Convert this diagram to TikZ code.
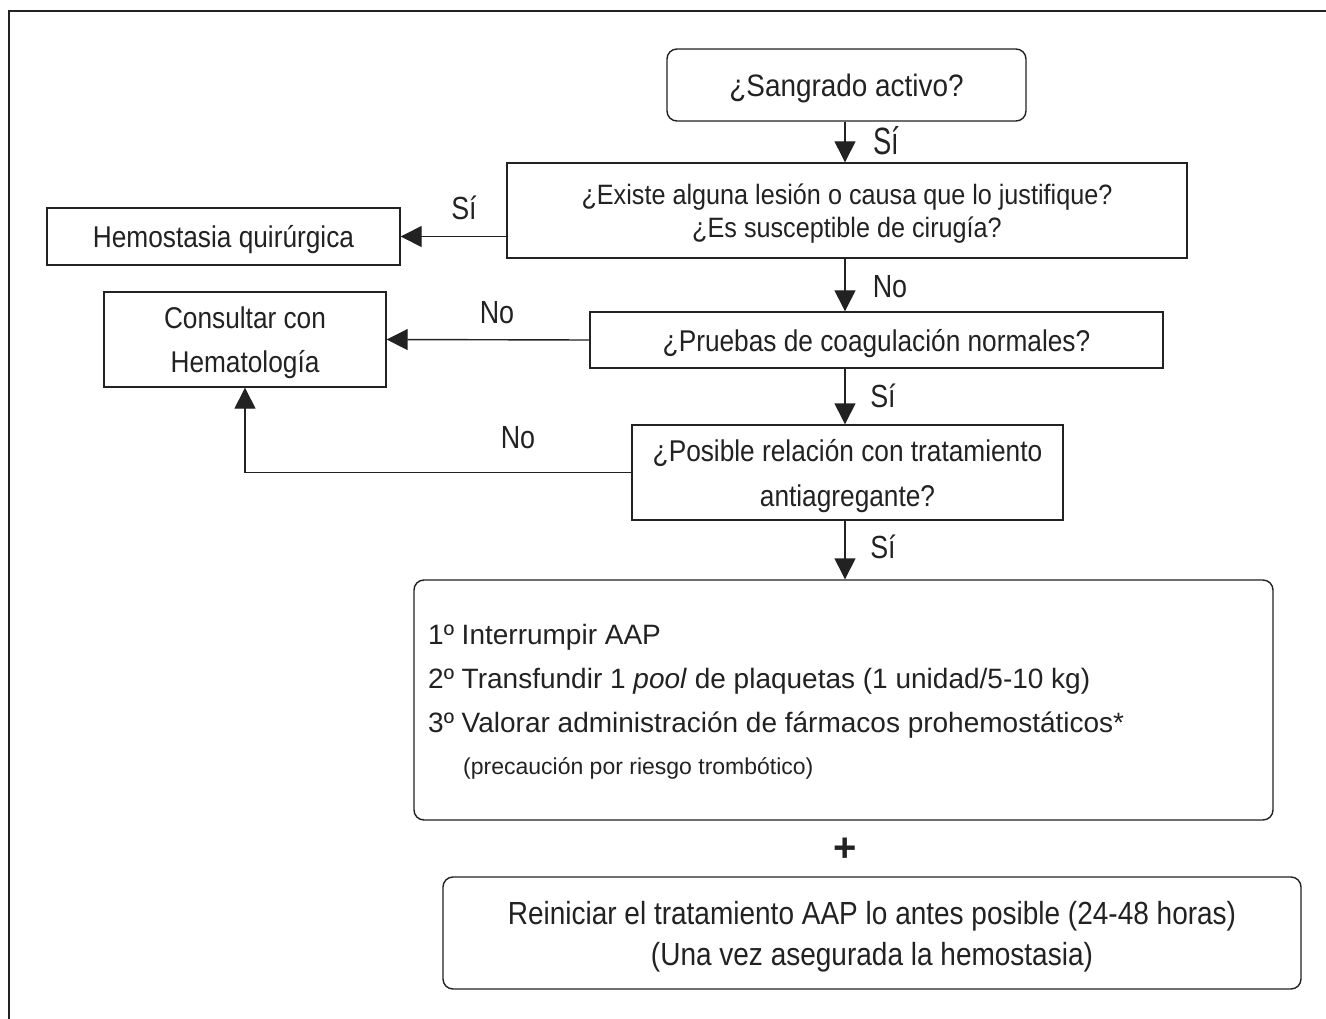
\documentclass[tikz,border=0pt]{standalone}
\usepackage{fontspec}
\setmainfont{Liberation Sans}
\newfontfamily\cond[FakeStretch=0.875]{Liberation Sans}
\newfontfamily\condm[FakeStretch=0.9]{Liberation Sans}
\newfontfamily\condl[FakeStretch=0.84]{Liberation Sans}
\newfontfamily\condx[FakeStretch=0.72]{Liberation Sans}
\usetikzlibrary{arrows.meta}
\definecolor{ink}{HTML}{222222}
\tikzset{
  box/.style={draw=ink, line width=1.4pt, inner sep=0pt, align=center, text=ink, text depth=0pt},
  rbox/.style={box, rounded corners=10pt},
  arr/.style={draw=ink, line width=1.4pt, -{Triangle[length=21pt,width=21pt]}},
  lbl/.style={text=ink, inner sep=0pt, font=\condl\fontsize{32}{36}\selectfont},
  txt/.style={text=ink, inner sep=0pt, font=\fontsize{28}{44}\selectfont},
}
\begin{document}
\begin{tikzpicture}[x=1pt,y=-1pt]
\useasboundingbox[fill=white] (0,0) rectangle (1326,1019);
% frame
\draw[ink, line width=1.4pt] (9,1019) -- (9,11) -- (1326,11);

\node[rbox, minimum width=359pt, minimum height=72pt, font=\condm\fontsize{31}{34}\selectfont] (sang) at (846.5,85) {¿Sangrado activo?};
\node[box, minimum width=680pt, minimum height=95pt, font=\condm\fontsize{28}{33}\selectfont] (exist) at (847,210.5) {¿Existe alguna lesión o causa que lo justifique?\\¿Es susceptible de cirugía?};
\node[box, minimum width=353pt, minimum height=57pt, font=\cond\fontsize{30}{36}\selectfont] (hemo) at (223.5,236.5) {Hemostasia quirúrgica};
\node[box, minimum width=573pt, minimum height=56pt, font=\cond\fontsize{30}{36}\selectfont] (prue) at (876.5,340) {¿Pruebas de coagulación normales?};
\node[box, minimum width=282pt, minimum height=95pt, font=\cond\fontsize{30}{44}\selectfont] (cons) at (245,339.5) {Consultar con\\Hematología};
\node[box, minimum width=431pt, minimum height=95pt, font=\cond\fontsize{30}{45}\selectfont] (posi) at (847.5,472.5) {¿Posible relación con tratamiento\\antiagregante?};
\node[rbox, minimum width=859pt, minimum height=240pt] (big) at (843.5,700) {};
\node[txt, anchor=base west] (t1) at (428,644) {1º Interrumpir AAP};
\node[txt, anchor=base west] (t2) at (428,688) {2º Transfundir 1 \textit{pool} de plaquetas (1 unidad/5-10 kg)};
\node[txt, anchor=base west] (t3) at (428,732) {3º Valorar administración de fármacos prohemostáticos*};
\node[text=ink, inner sep=0pt, anchor=base west, font=\fontsize{23}{26}\selectfont] (t4) at (463,774) {(precaución por riesgo trombótico)};
\node[text=ink, inner sep=0pt, font=\bfseries\fontsize{40}{42}\selectfont] (plus) at (845,850) {+};
\node[rbox, minimum width=858pt, minimum height=112pt, font=\cond\fontsize{32}{41}\selectfont] (rein) at (872,933) {Reiniciar el tratamiento AAP lo antes posible (24-48 horas)\\(Una vez asegurada la hemostasia)};

% connectors
\draw[arr] (sang.south -| 845,0) -- (exist.north -| 845,0);
\draw[arr] (exist.south -| 845,0) -- (prue.north -| 845,0);
\draw[arr] (prue.south -| 845,0) -- (posi.north -| 845,0);
\draw[arr] (posi.south -| 845,0) -- (big.north -| 845,0);
\draw[arr] (hemo.east -| exist.west) -- (hemo.east);
\draw[arr] (prue.west) -- (cons.east);
\draw[arr] (posi.west) -| (cons.south);

% labels
\node[lbl, font=\condx\fontsize{38}{40}\selectfont] (l1) at (886,141) {Sí};
\node[lbl] (l2) at (464,208) {Sí};
\node[lbl] (l3) at (890,287) {No};
\node[lbl] (l4) at (497,313) {No};
\node[lbl] (l5) at (883,396) {Sí};
\node[lbl] (l6) at (518,438) {No};
\node[lbl] (l7) at (883,547) {Sí};
\end{tikzpicture}
\end{document}
